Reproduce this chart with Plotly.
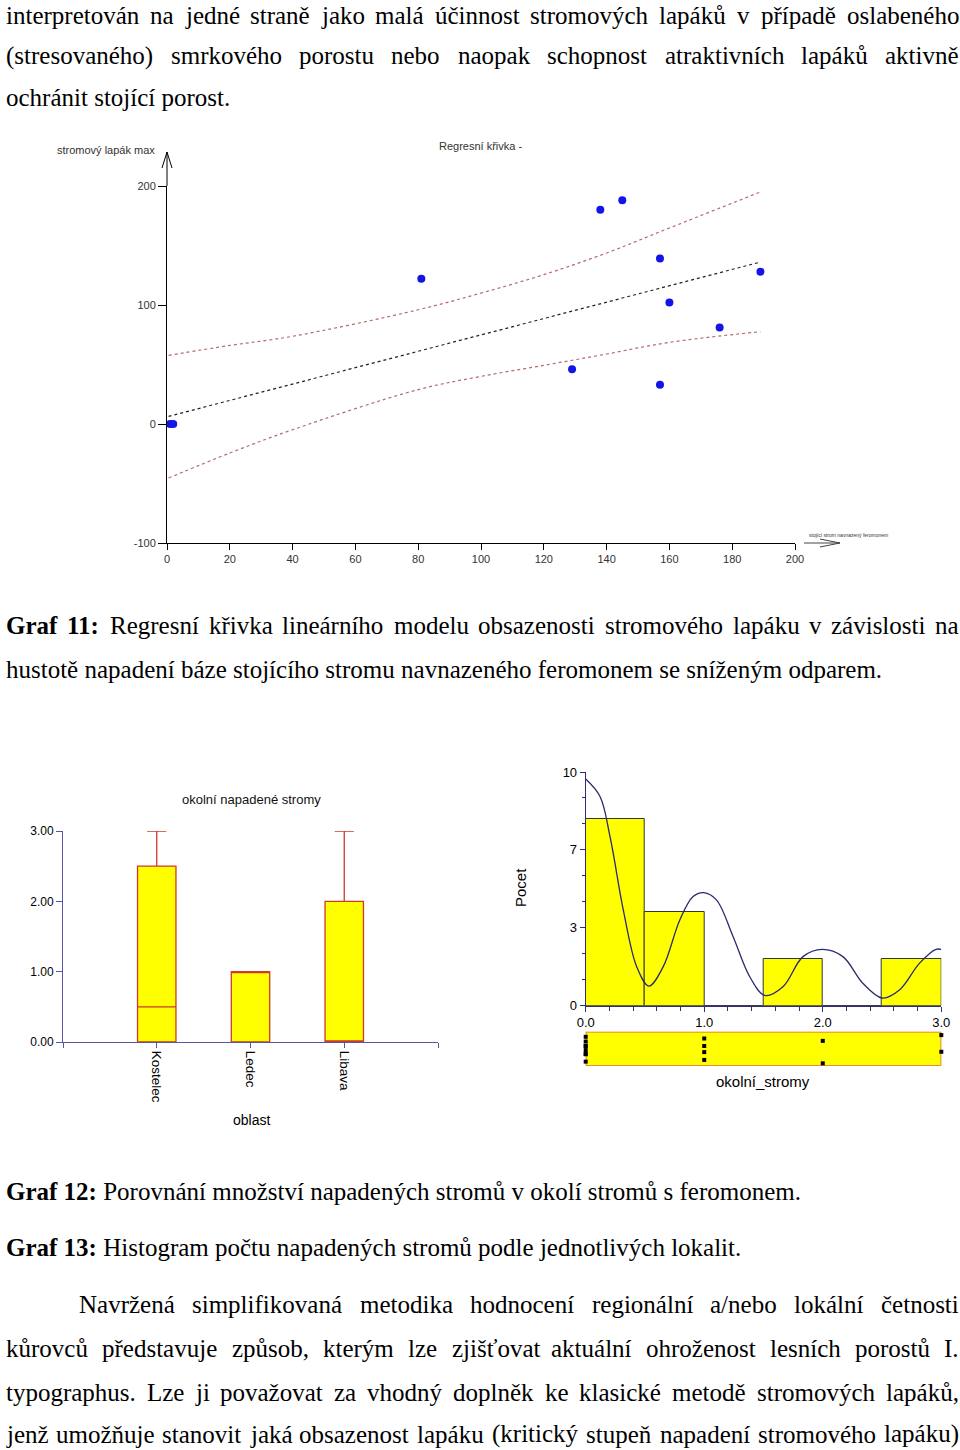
import plotly.graph_objects as go

W, H = 960, 1450


def px(x):
    return x / W


def py(y):
    return 1 - y / H


# ---------------- data: Graf 11 (regression) ----------------
reg_x = [1, 2, 81, 138, 145, 157, 160, 189, 176, 129, 157]
reg_y = [0, 0, 122, 180, 188, 139, 102, 128, 81, 46, 33]
fit_x = [0.5, 189]
fit_y = [6.4, 136.1]
ci_up_x = [0.5, 20, 40, 80, 100, 120, 140, 160, 189]
ci_up_y = [57.7, 66.0, 73.7, 96, 110, 125.5, 143.7, 164.7, 195]
ci_lo_x = [0.5, 20, 40, 80, 100, 120, 140, 160, 189]
ci_lo_y = [-45.4, -24.4, -4.8, 28.9, 40, 49.3, 58.8, 68.6, 77.6]
reg_xticks = [0, 20, 40, 60, 80, 100, 120, 140, 160, 180, 200]
reg_yticks = [-100, 0, 100, 200]
reg_yticklabels = ["-100", "0", "100", "200"]

# ---------------- data: Graf 12 (box plot) ----------------
regions = ["Kostelec", "Ledec", "Libava"]
box_q1 = [0.0, 0.0, 0.0]
box_median = [0.5, 1.0, 0.0]
box_q3 = [2.5, 1.0, 2.0]
box_low = [0.0, 0.0, 0.0]
box_high = [3.0, 1.0, 3.0]
box_yticks = [0, 1, 2, 3]

# ---------------- data: Graf 13 (histogram) ----------------
bin_edges = [0.0, 0.5, 1.0, 1.5, 2.0, 2.5, 3.0]
bin_counts = [8, 4, 0, 2, 0, 2]
kde_x = [0.0, 0.12, 0.205, 0.317, 0.43, 0.533, 0.654, 0.794, 0.906, 0.996, 1.103,
         1.243, 1.384, 1.51, 1.664, 1.833, 1.996, 2.17, 2.338, 2.5, 2.647, 2.815,
         2.955, 3.0]
kde_y = [9.7, 8.96, 7.24, 4.1, 1.67, 0.84, 1.67, 3.67, 4.67, 4.84, 4.53,
         2.96, 1.24, 0.44, 0.81, 2.1, 2.41, 2.1, 0.96, 0.33, 0.67, 1.81,
         2.41, 2.41]
hist_yvals = [0, 10 / 3, 20 / 3, 10]
hist_ylabels = ["0", "3", "7", "10"]
hist_xvals = [0, 1, 2, 3]
hist_xlabels = ["0.0", "1.0", "2.0", "3.0"]
rug_x = [0, 0, 0, 0, 0, 0, 0, 0, 1, 1, 1, 1, 2, 2, 3, 3]
rug_jitter = [0.85, 0.71, 0.58, 0.58, 0.46, 0.34, 0.34, 0.12,
              0.80, 0.58, 0.40, 0.17, 0.73, 0.07, 0.90, 0.41]

# ---------------- page text ----------------
para_top = [
    ("interpretován na jedné straně jako malá účinnost stromových lapáků v případě oslabeného", True),
    ("(stresovaného) smrkového porostu nebo naopak schopnost atraktivních lapáků aktivně", True),
    ("ochránit stojící porost.", False),
]
cap11_1 = "Graf 11: Regresní křivka lineárního modelu obsazenosti stromového lapáku v závislosti na"
cap11_2 = "hustotě napadení báze stojícího stromu navnazeného feromonem se sníženým odparem."
cap12 = "<b>Graf 12:</b> Porovnání množství napadených stromů v okolí stromů s feromonem."
cap13 = "<b>Graf 13:</b> Histogram počtu napadených stromů podle jednotlivých lokalit."
para_bottom = [
    "Navržená simplifikovaná metodika hodnocení regionální a/nebo lokální četnosti",
    "kůrovců představuje způsob, kterým lze zjišťovat aktuální ohroženost lesních porostů I.",
    "typographus. Lze ji považovat za vhodný doplněk ke klasické metodě stromových lapáků,",
    "jenž umožňuje stanovit jaká obsazenost lapáku (kritický stupeň napadení stromového lapáku)",
]

SERIF = "Liberation Serif, Times New Roman, serif"
SANS = "Liberation Sans, Arial, sans-serif"
FS = 25

# Times metrics (per 1000 em)
TW = dict(a=444, b=500, c=444, d=500, e=444, f=333, g=500, h=500, i=278, j=278, k=500,
          l=278, m=778, n=500, o=500, p=500, q=500, r=333, s=389, t=278, u=500, v=500,
          w=722, x=500, y=500, z=444)
TW.update({"A": 722, "G": 722, "H": 722, "I": 333, "L": 611, "N": 722, "P": 556, "R": 667,
           " ": 250, ".": 250, ",": 250, ":": 278, "(": 333, ")": 333, "/": 278, "-": 333})
for d in "0123456789":
    TW[d] = 500
ACC = {"á": "a", "č": "c", "ď": "d", "é": "e", "ě": "e", "í": "i", "ň": "n", "ó": "o",
       "ř": "r", "š": "s", "ť": "t", "ú": "u", "ů": "u", "ý": "y", "ž": "z"}
for k, v in ACC.items():
    TW[k] = TW[v]
TWB = {"G": 778, "r": 444, "a": 500, "f": 333, ":": 333, " ": 250}
for d in "0123456789":
    TWB[d] = 500


def width(s, bold=False):
    tb = TWB if bold else TW
    return sum(tb.get(ch, TW.get(ch, 500)) for ch in s) * FS / 1000


annotations = []


def add_text(txt, x, y, size=FS, family=SERIF, anchor="left", color="black", angle=0):
    annotations.append(dict(text=txt, x=px(x), y=py(y), xref="paper", yref="paper",
                            xanchor=anchor, yanchor="middle", showarrow=False,
                            borderpad=0, textangle=angle,
                            font=dict(family=family, size=size, color=color)))


def justify(words, bolds, left, right, y):
    ws = [width(w, b) for w, b in zip(words, bolds)]
    gap = (right - left - sum(ws)) / (len(words) - 1)
    x = left
    for w, b, wd in zip(words, bolds, ws):
        add_text(f"<b>{w}</b>" if b else w, x, y)
        x += wd + gap


# top paragraph
ys_top = [15, 56, 98]
for (line, just), y in zip(para_top, ys_top):
    if just:
        w = line.split(" ")
        justify(w, [False] * len(w), 5, 958, y)
    else:
        add_text(line, 5, y)

# caption 11
w11 = cap11_1.split(" ")
justify(w11, [i < 2 for i in range(len(w11))], 5, 958, 625)
add_text(cap11_2, 5, 669)

add_text(cap12, 5, 1191)
add_text(cap13, 5, 1247)

ys_bot = [1304, 1348, 1392, 1434]
for i, (line, y) in enumerate(zip(para_bottom, ys_bot)):
    w = line.split(" ")
    justify(w, [False] * len(w), 78 if i == 0 else 5, 958, y)

# chart labels
add_text("stromový lapák max", 56, 150, size=11, family=SANS, color="#333")
add_text("Regresní křivka -", 438, 146, size=11, family=SANS, color="#333")
add_text("stojící strom navnazený feromonem", 808, 535, size=5, family=SANS, color="#333")
add_text("okolní napadené stromy", 251, 799, size=13, family=SANS, anchor="center",
         color="#111")
add_text("oblast", 251, 1120, size=14, family=SANS, anchor="center")
add_text("Pocet", 521, 888, size=15, family=SANS, anchor="center", angle=-90)
add_text("okolní_stromy", 763, 1081, size=15, family=SANS, anchor="center")

fig = go.Figure()

# ---- Graf 11 traces
fig.add_trace(go.Scatter(x=ci_up_x, y=ci_up_y, mode="lines", line_shape="spline",
                         line=dict(color="#b86a6a", width=1.2, dash="dot"),
                         xaxis="x", yaxis="y"))
fig.add_trace(go.Scatter(x=ci_lo_x, y=ci_lo_y, mode="lines", line_shape="spline",
                         line=dict(color="#b86a6a", width=1.2, dash="dot"),
                         xaxis="x", yaxis="y"))
fig.add_trace(go.Scatter(x=fit_x, y=fit_y, mode="lines",
                         line=dict(color="#202020", width=1.2, dash="dot"),
                         xaxis="x", yaxis="y"))
fig.add_trace(go.Scatter(x=reg_x, y=reg_y, mode="markers", cliponaxis=False,
                         marker=dict(color="#1414e6", size=8, symbol="circle"),
                         xaxis="x", yaxis="y"))

# ---- Graf 12 box plot
fig.add_trace(go.Box(x=list(range(len(regions))), q1=box_q1, median=box_median, q3=box_q3,
                     lowerfence=box_low, upperfence=box_high, width=0.41, whiskerwidth=0.5,
                     fillcolor="#ffff00", line=dict(color="#cc3a2a", width=1.3),
                     boxpoints=False, xaxis="x2", yaxis="y2"))

# ---- Graf 13 histogram
centers = [(a + b) / 2 for a, b in zip(bin_edges[:-1], bin_edges[1:])]
widths = [b - a for a, b in zip(bin_edges[:-1], bin_edges[1:])]
fig.add_trace(go.Bar(x=centers, y=bin_counts, width=widths,
                     marker=dict(color="#ffff00", line=dict(color="#333333", width=1)),
                     xaxis="x3", yaxis="y3"))
fig.add_trace(go.Scatter(x=kde_x, y=kde_y, mode="lines", line_shape="spline",
                         line=dict(color="#2a2a6e", width=1.3), cliponaxis=False,
                         xaxis="x3", yaxis="y3"))
fig.add_trace(go.Scatter(x=rug_x, y=rug_jitter, mode="markers", cliponaxis=False,
                         marker=dict(color="black", size=4, symbol="square"),
                         xaxis="x4", yaxis="y4"))

tickfont_s = dict(family=SANS, size=11, color="#333")
navy = "#5656a4"
hnavy = "#2e2e78"

fig.update_layout(
    width=W, height=H, margin=dict(l=0, r=0, t=0, b=0, autoexpand=False),
    paper_bgcolor="white", plot_bgcolor="rgba(0,0,0,0)", showlegend=False,
    bargap=0,
    xaxis=dict(domain=[px(167), px(795)], range=[0, 200], anchor="y",
               tickvals=reg_xticks, ticks="outside", ticklen=6, tickcolor="black",
               showline=True, linecolor="black", showgrid=False, zeroline=False,
               tickfont=tickfont_s),
    yaxis=dict(domain=[py(543), py(186)], range=[-100, 200], anchor="x",
               tickvals=reg_yticks, ticktext=reg_yticklabels, ticks="outside", ticklen=8,
               tickcolor="black", showline=True, linecolor="black", showgrid=False,
               zeroline=False, tickfont=tickfont_s),
    xaxis2=dict(domain=[px(63), px(438)], range=[-1, 3], anchor="y2",
                tickvals=[-1, 0, 1, 2, 3], ticktext=[""] + regions + [""], tickangle=90,
                ticks="outside", ticklen=5, tickcolor=navy, showline=True, linecolor=navy,
                showgrid=False, zeroline=False,
                tickfont=dict(family=SANS, size=13.5, color="black")),
    yaxis2=dict(domain=[py(1042), py(831)], range=[0, 3], anchor="x2",
                tickvals=box_yticks, tickformat=".2f", ticks="outside", ticklen=6,
                tickcolor=navy, showline=True, linecolor=navy, showgrid=False,
                zeroline=False, tickfont=dict(family=SANS, size=12, color="black")),
    xaxis3=dict(domain=[px(585.7), px(941.3)], range=[0, 3], anchor="y3",
                tickvals=hist_xvals, ticktext=hist_xlabels, ticks="outside", ticklen=5,
                tickcolor=hnavy, showline=True, linecolor=hnavy, showgrid=False,
                zeroline=False, tickfont=dict(family=SANS, size=13, color="black"),
                minor=dict(tickvals=[i * 0.2 for i in range(16)], ticks="outside",
                           ticklen=4, tickcolor=hnavy, showgrid=False)),
    yaxis3=dict(domain=[py(1005.7), py(772)], range=[0, 10], anchor="x3",
                tickvals=hist_yvals, ticktext=hist_ylabels, ticks="outside", ticklen=5,
                tickcolor=hnavy, showline=True, linecolor=hnavy, showgrid=False,
                zeroline=False, tickfont=dict(family=SANS, size=13, color="black"),
                minor=dict(tickvals=[i * 10 / 9 for i in range(10)], ticks="outside",
                           ticklen=3, tickcolor=hnavy, showgrid=False)),
    xaxis4=dict(domain=[px(585.7), px(941.3)], range=[0, 3], anchor="y4", visible=False),
    yaxis4=dict(domain=[py(1065.7), py(1031.7)], range=[0, 1], anchor="x4", visible=False),
    annotations=annotations,
)

shapes = [
    dict(type="rect", xref="x4", yref="y4", x0=0, x1=3, y0=0, y1=1,
         fillcolor="#ffff00", line=dict(color="#e0602a", width=1.5), layer="below"),
    dict(type="line", xref="paper", yref="paper", x0=px(167), y0=py(186), x1=px(167), y1=py(152),
         line=dict(color="black", width=1)),
    dict(type="line", xref="paper", yref="paper", x0=px(167), y0=py(152), x1=px(162), y1=py(168),
         line=dict(color="black", width=1)),
    dict(type="line", xref="paper", yref="paper", x0=px(167), y0=py(152), x1=px(172), y1=py(168),
         line=dict(color="black", width=1)),
    dict(type="line", xref="paper", yref="paper", x0=px(804), y0=py(543), x1=px(840), y1=py(543),
         line=dict(color="#444", width=1)),
    dict(type="line", xref="paper", yref="paper", x0=px(840), y0=py(543), x1=px(820), y1=py(539),
         line=dict(color="#444", width=1)),
    dict(type="line", xref="paper", yref="paper", x0=px(840), y0=py(543), x1=px(820), y1=py(547),
         line=dict(color="#444", width=1)),
]
fig.update_layout(shapes=shapes)

fig.write_html(
    "out.html",
    config={"displayModeBar": False, "responsive": False},
    post_script="document.documentElement.style.margin='0';document.body.style.margin='0';"
                "document.body.style.padding='0';document.body.style.overflow='hidden';",
)
